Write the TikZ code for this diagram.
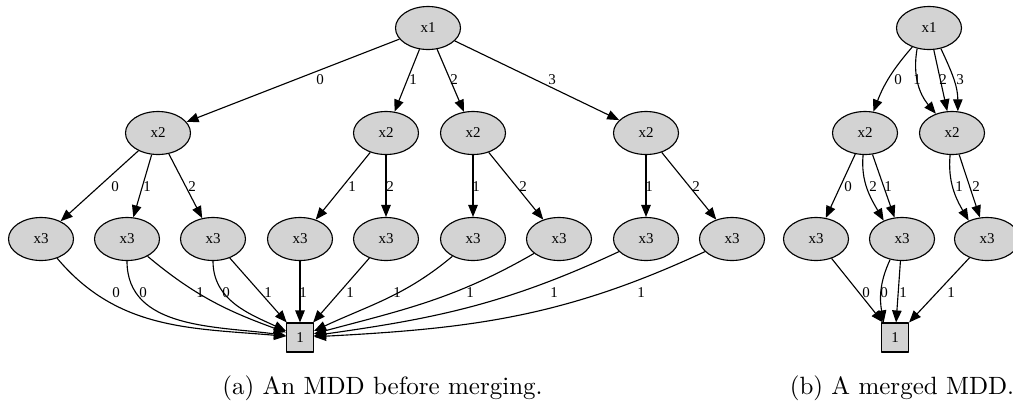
\documentclass[tikz,border=0pt]{standalone}
\usepackage{fontspec}
\newfontfamily\gvfont{Liberation Serif}
\usetikzlibrary{arrows.meta,shapes.geometric}
\definecolor{nodegray}{HTML}{D3D3D3}
\newcommand{\gvsize}{\gvfont\fontsize{6}{7}\selectfont}

\begin{document}
\begin{tikzpicture}[x=0.4pt, y=0.4pt, line join=round,
 >={Triangle[length=4.8pt,width=3.8pt]},
 vnode/.style={ellipse, draw, fill=nodegray, line width=0.45pt, minimum width=26pt, minimum height=17.2pt, inner sep=0pt, font=\gvsize},
 term/.style={rectangle, draw, fill=nodegray, line width=0.45pt, minimum width=10.8pt, minimum height=11.6pt, inner sep=0pt, font=\gvsize},
 edg/.style={->, line width=0.45pt},
 lbl/.style={inner sep=0pt, font=\gvsize}]
 \useasboundingbox (0,0) rectangle (1013,-401);

 % (a) before merging
 \node[vnode] (a1) at (428,-28) {x1};
 \foreach \n/\x in {1/158,2/386,3/473,4/646} \node[vnode] (a2\n) at (\x,-133) {x2};
 \foreach \n/\x in {1/41,2/127,3/213,4/300,5/386,6/473,7/559,8/646,9/732} \node[vnode] (a3\n) at (\x,-239) {x3};
 \node[term] (aT) at (300,-337.5) {1};

 \draw[edg] (a1) -- (a21) node[lbl] at (320,-80) {0};
 \draw[edg] (a1) -- (a22) node[lbl] at (413,-80) {1};
 \draw[edg] (a1) -- (a23) node[lbl] at (454,-80) {2};
 \draw[edg] (a1) -- (a24) node[lbl] at (552,-80) {3};

 \draw[edg] (a21) -- (a31) node[lbl] at (115,-187) {0};
 \draw[edg] (a21) -- (a32) node[lbl] at (147,-187) {1};
 \draw[edg] (a21) -- (a33) node[lbl] at (192,-187) {2};
 \draw[edg] (a22) -- (a34) node[lbl] at (352,-187) {1};
 \draw[edg] (a22) -- (a35) node[lbl] at (390,-187) {2};
 \draw[edg] (a23) -- (a36) node[lbl] at (476,-187) {1};
 \draw[edg] (a23) -- (a37) node[lbl] at (523,-187) {2};
 \draw[edg] (a24) -- (a38) node[lbl] at (649,-187) {1};
 \draw[edg] (a24) -- (a39) node[lbl] at (696,-187) {2};

 \draw[edg] (a31) to[out=-50,in=175] (aT) node[lbl] at (116,-293) {0};
 \draw[edg] (a32) to[out=-90,in=172] (aT) node[lbl] at (143,-293) {0};
 \draw[edg] (a32) to[out=-40,in=160] (aT) node[lbl] at (200,-293) {1};
 \draw[edg] (a33) to[out=-90,in=155] (aT) node[lbl] at (226,-293) {0};
 \draw[edg] (a33) -- (aT) node[lbl] at (268,-293) {1};
 \draw[edg] (a34) -- (aT) node[lbl] at (303,-293) {1};
 \draw[edg] (a35) -- (aT) node[lbl] at (350,-293) {1};
 \draw[edg] (a36) to[out=-140,in=25] (aT) node[lbl] at (397,-293) {1};
 \draw[edg] (a37) to[out=-150,in=15] (aT) node[lbl] at (470,-293) {1};
 \draw[edg] (a38) to[out=-155,in=8] (aT) node[lbl] at (554,-293) {1};
 \draw[edg] (a39) to[out=-155,in=3] (aT) node[lbl] at (641,-293) {1};

 % (b) merged
 \node[vnode] (b1) at (929,-28) {x1};
 \node[vnode] (b21) at (865,-133) {x2};
 \node[vnode] (b22) at (952,-133) {x2};
 \node[vnode] (b31) at (816,-239) {x3};
 \node[vnode] (b32) at (902,-239) {x3};
 \node[vnode] (b33) at (987,-239) {x3};
 \node[term] (bT) at (895,-337.5) {1};

 \draw[edg] (b1) to[bend right=10] (b21) node[lbl] at (898,-80) {0};
 \draw[edg] (b1.-120) to[out=-100,in=130] (b22.130) node[lbl] at (917,-80) {1};
 \draw[edg] (b1) -- (b22) node[lbl] at (943,-80) {2};
 \draw[edg] (b1.-60) to[out=-65,in=90] (b22.75) node[lbl] at (960,-80) {3};

 \draw[edg] (b21) -- (b31) node[lbl] at (848,-187) {0};
 \draw[edg] (b21.-95) to[out=-95,in=120] (b32.135) node[lbl] at (873,-187) {2};
 \draw[edg] (b21) -- (b32) node[lbl] at (888,-187) {1};
 \draw[edg] (b22.-95) to[out=-95,in=120] (b33.135) node[lbl] at (959,-187) {1};
 \draw[edg] (b22) -- (b33) node[lbl] at (976,-187) {2};

 \draw[edg] (b31) -- (bT) node[lbl] at (866,-293) {0};
 \draw[edg] (b32.-120) to[out=-115,in=100] (bT.127) node[lbl] at (884,-293) {0};
 \draw[edg] (b32) -- (bT) node[lbl] at (903,-293) {1};
 \draw[edg] (b33) -- (bT) node[lbl] at (951,-293) {1};

 % captions
 \node[anchor=base] (capa) at (382.5,-394) {(a)\ An MDD before merging.};
 \node[anchor=base] (capb) at (902,-394) {(b) A merged MDD.};
\end{tikzpicture}
\end{document}
